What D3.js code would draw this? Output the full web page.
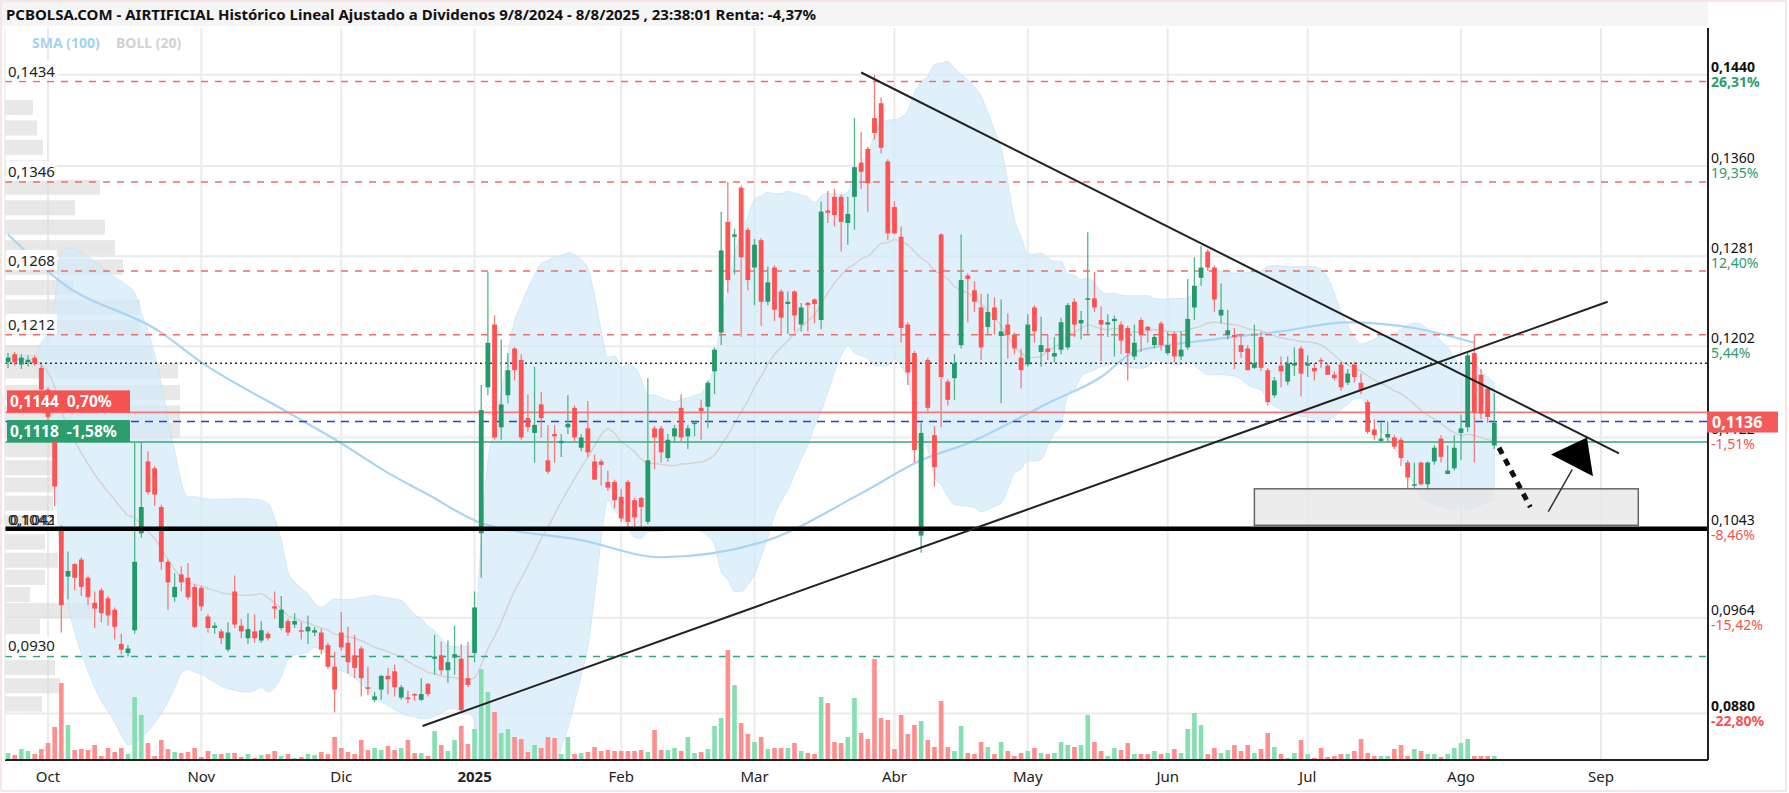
<!DOCTYPE html>
<html><head><meta charset="utf-8">
<script src="https://cdn.jsdelivr.net/npm/d3@7"></script>
<style>body{margin:0;background:#fff}svg{display:block;font-family:"Noto Sans",sans-serif}</style>
</head><body>
<script>
// ---------- DATA ----------
const startDate = "2024-09-23", endDate = "2025-08-08", axisEndDate = "2025-09-05";
const holidays = ["2024-12-25","2024-12-26","2025-01-01","2025-04-18","2025-04-21","2025-05-01"];
const opens = [.1188,.1195,.1186,.1188,.1192,.1183,.1164,.1118,.1042,.1000,.1011,.1015,.0999,.0977,.0988,.0981,.0971,.0941,.0933,.0953,
.1038,.1101,.1095,.1061,.1013,.0982,.1002,.0999,.0991,.0990,.0965,.0955,.0952,.0936,.0987,.0957,.0946,.0952,.0944,.0950,
.0974,.0955,.0961,.0958,.0953,.0952,.0951,.0951,.0940,.0921,.0951,.0942,.0931,.0937,.0903,.0892,.0901,.0913,.0917,.0894,
.0894,.0897,.0892,.0906,.0928,.0931,.0918,.0929,.0928,.0911,.0933,.1038,.1166,.1221,.1131,.1159,.1200,.1190,.1139,.1126,
.1151,.1102,.1125,.1117,.1131,.1148,.1113,.1130,.1101,.1101,.1083,.1083,.1070,.1083,.1067,.1069,.1048,.1130,.1130,.1104,
.1123,.1148,.1123,.1134,.1148,.1149,.1180,.1214,.1311,.1298,.1341,.1304,.1271,.1295,.1241,.1271,.1250,.1239,.1250,.1221,
.1240,.1243,.1225,.1321,.1333,.1333,.1310,.1333,.1363,.1375,.1402,.1415,.1364,.1324,.1298,.1221,.1196,.1036,.1190,.1124,
.1300,.1171,.1174,.1203,.1264,.1251,.1236,.1219,.1236,.1211,.1221,.1212,.1192,.1186,.1236,.1197,.1200,.1193,.1199,.1201,
.1241,.1222,.1243,.1244,.1225,.1221,.1224,.1221,.1218,.1193,.1225,.1219,.1203,.1222,.1196,.1213,.1193,.1201,.1236,.1262,
.1285,.1271,.1229,.1212,.1212,.1203,.1200,.1183,.1210,.1181,.1159,.1185,.1171,.1185,.1200,.1185,.1183,.1190,.1185,.1177,
.1186,.1170,.1186,.1170,.1153,.1129,.1119,.1122,.1122,.1120,.1100,.1080,.1100,.1081,.1101,.1121,.1090,.1095,.1126,.1131,
.1196,.1177,.1165,.1115];
const highs = [.1196,.1197,.1195,.1194,.1194,.1186,.1166,.1125,.1045,.1022,.1012,.1017,.1001,.0987,.0990,.0983,.0973,.0950,.0940,.1118,
.1118,.1110,.1097,.1063,.1015,.1003,.1009,.1012,.0993,.0992,.0967,.0960,.0954,.0960,.1001,.0963,.0968,.0967,.0961,.0952,
.0987,.0983,.0963,.0968,.0960,.0966,.0956,.0954,.0942,.0934,.0969,.0956,.0949,.0939,.0921,.0899,.0914,.0920,.0923,.0905,
.0900,.0898,.0911,.0907,.0949,.0943,.0944,.0957,.0941,.0943,.0987,.1168,.1267,.1229,.1208,.1196,.1201,.1195,.1160,.1184,
.1162,.1133,.1133,.1125,.1159,.1150,.1125,.1154,.1107,.1103,.1093,.1085,.1077,.1085,.1069,.1070,.1174,.1132,.1132,.1125,
.1133,.1160,.1133,.1136,.1155,.1172,.1201,.1320,.1346,.1305,.1343,.1306,.1296,.1297,.1272,.1273,.1252,.1250,.1251,.1240,
.1241,.1244,.1329,.1338,.1340,.1335,.1333,.1402,.1390,.1377,.1440,.1420,.1366,.1329,.1307,.1223,.1198,.1135,.1192,.1132,
.1301,.1173,.1195,.1300,.1266,.1259,.1248,.1248,.1245,.1243,.1231,.1214,.1200,.1230,.1238,.1228,.1212,.1210,.1227,.1240,
.1244,.1233,.1302,.1267,.1237,.1230,.1229,.1224,.1220,.1221,.1227,.1220,.1212,.1224,.1215,.1215,.1215,.1261,.1280,.1290,
.1287,.1273,.1257,.1234,.1218,.1213,.1203,.1221,.1215,.1183,.1175,.1193,.1193,.1201,.1202,.1194,.1187,.1192,.1187,.1180,
.1187,.1182,.1188,.1178,.1155,.1138,.1135,.1136,.1124,.1122,.1102,.1100,.1101,.1101,.1115,.1124,.1115,.1124,.1142,.1196,
.1212,.1182,.1167,.1161];
const lows = [.1183,.1185,.1182,.1184,.1185,.1160,.1135,.1062,.0951,.0980,.0988,.0983,.0975,.0955,.0960,.0957,.0945,.0932,.0930,.0950,
.1034,.1072,.1062,.1006,.0971,.0978,.0987,.0980,.0955,.0970,.0951,.0950,.0941,.0934,.0955,.0946,.0941,.0942,.0942,.0944,
.0963,.0953,.0948,.0955,.0945,.0941,.0948,.0932,.0919,.0881,.0935,.0915,.0911,.0895,.0896,.0890,.0892,.0897,.0895,.0892,
.0889,.0891,.0891,.0895,.0914,.0914,.0907,.0914,.0882,.0903,.0925,.0999,.1159,.1120,.1120,.1152,.1172,.1120,.1127,.1100,
.1122,.1090,.1100,.1105,.1125,.1118,.1110,.1105,.1085,.1080,.1075,.1060,.1048,.1042,.1040,.1044,.1046,.1094,.1100,.1101,
.1118,.1118,.1112,.1123,.1120,.1130,.1160,.1203,.1249,.1265,.1210,.1251,.1238,.1220,.1238,.1224,.1213,.1213,.1215,.1215,
.1215,.1222,.1217,.1310,.1307,.1285,.1291,.1304,.1340,.1320,.1383,.1371,.1295,.1300,.1205,.1168,.1100,.1021,.1145,.1079,
.1131,.1150,.1155,.1200,.1223,.1232,.1190,.1212,.1212,.1152,.1191,.1195,.1165,.1184,.1205,.1184,.1190,.1188,.1195,.1199,
.1210,.1208,.1213,.1232,.1189,.1210,.1193,.1195,.1172,.1190,.1197,.1205,.1200,.1198,.1194,.1188,.1190,.1199,.1225,.1255,
.1268,.1232,.1222,.1208,.1182,.1192,.1181,.1182,.1180,.1150,.1157,.1166,.1168,.1176,.1158,.1175,.1172,.1183,.1177,.1172,
.1163,.1168,.1170,.1160,.1125,.1120,.1118,.1118,.1112,.1097,.1077,.1078,.1080,.1075,.1098,.1100,.1090,.1093,.1102,.1127,
.1100,.1138,.1135,.1112];
const closes = [.1192,.1188,.1192,.1190,.1187,.1164,.1140,.1079,.0975,.1005,.0999,.0991,.0982,.0972,.0968,.0966,.0956,.0936,.0937,.1013,
.1061,.1074,.1072,.1013,.0995,.0991,.0995,.0982,.0956,.0974,.0955,.0957,.0946,.0951,.0958,.0952,.0954,.0946,.0953,.0946,
.0972,.0971,.0951,.0961,.0952,.0956,.0953,.0936,.0921,.0901,.0938,.0925,.0920,.0911,.0902,.0895,.0913,.0910,.0903,.0903,
.0893,.0896,.0897,.0897,.0930,.0918,.0925,.0932,.0883,.0905,.0973,.1146,.1205,.1122,.1151,.1181,.1181,.1122,.1131,.1133,
.1139,.1092,.1123,.1119,.1134,.1122,.1122,.1109,.1085,.1098,.1078,.1067,.1051,.1048,.1052,.1061,.1102,.1122,.1109,.1120,
.1130,.1122,.1130,.1135,.1145,.1170,.1199,.1286,.1260,.1300,.1280,.1260,.1291,.1241,.1258,.1234,.1227,.1241,.1229,.1236,
.1238,.1239,.1320,.1319,.1317,.1311,.1318,.1359,.1355,.1345,.1389,.1376,.1301,.1301,.1218,.1179,.1111,.1126,.1148,.1096,
.1175,.1155,.1187,.1260,.1261,.1241,.1201,.1232,.1225,.1215,.1212,.1200,.1181,.1221,.1215,.1203,.1197,.1196,.1223,.1238,
.1221,.1225,.1244,.1236,.1221,.1223,.1226,.1207,.1196,.1205,.1212,.1216,.1210,.1203,.1203,.1193,.1199,.1226,.1255,.1271,
.1271,.1243,.1234,.1216,.1210,.1197,.1181,.1187,.1183,.1153,.1172,.1180,.1187,.1187,.1178,.1187,.1180,.1189,.1177,.1174,
.1166,.1178,.1175,.1164,.1127,.1124,.1121,.1125,.1114,.1104,.1087,.1081,.1081,.1100,.1113,.1105,.1093,.1113,.1130,.1194,
.1144,.1143,.1140,.1135];
const volumes = [6,4,10,8,5,10,16,32,76,34,9,10,9,14,3,11,7,11,5,62,44,16,3,19,10,7,6,7,11,2,8,5,5,6,6,2,5,1,4,5,
8,3,5,1,2,5,4,7,5,22,11,7,5,19,9,11,9,13,9,11,19,6,6,3,28,14,8,19,33,15,30,90,67,47,26,30,22,20,7,14,
11,22,21,5,22,5,6,7,12,8,9,8,8,8,8,9,7,29,9,9,11,8,22,6,7,10,33,41,109,74,36,25,17,22,10,11,11,11,16,8,
6,5,62,56,17,16,22,61,26,20,100,41,39,10,44,25,34,38,19,12,58,12,8,33,6,5,17,12,5,17,8,3,6,8,11,6,5,6,
17,14,12,14,44,17,8,3,11,9,16,5,5,5,8,5,6,10,6,30,46,34,5,11,6,9,14,8,14,6,10,26,12,5,1,6,19,5,1,11,
2,3,5,5,8,20,6,3,3,3,10,14,3,10,8,5,5,2,5,11,16,20,3,3,3,3];
// SMA(100) at sample candles
const smaIdx = [0,8,23,29,42,50,57,63,71,86,98,113,128,137,144,156,164,169,181,191,201,211,220];
const smaVal = [.1300,.1258,.1214,.1188,.1144,.1117,.1091,.1072,.1047,.1032,.1017,.1030,.1073,.1102,.1117,.1152,.1175,.1197,.1208,.1215,.1223,.1218,.1205];
// left volume profile: bin top price, width
const profTop = [.1418,.1400,.1383,.1365,.1348,.1330,.1313,.1295,.1278,.1260,.1243,.1225,.1203,.1187,.1168,.1150,.1135,.1118,.1102,.1087,.1071,.1054,.1037,.1021,.1006,.0991,.0977,.0963,.0945,.0927,.0911,.0895];
const profW = [28,32,38,45,95,70,100,110,118,68,135,135,147,173,175,175,175,48,48,48,48,40,40,53,40,25,88,35,40,50,55,37];
const monthNames = ["Oct","Nov","Dic","2025","Feb","Mar","Abr","May","Jun","Jul","Ago","Sep"];
const yTicks = [.1440,.1360,.1281,.1202,.1122,.1043,.0964,.0880];
const yTickLabels = ["0,1440","0,1360","0,1281","0,1202","0,1122","0,1043","0,0964","0,0880"];
const yTickPct = ["26,31%","19,35%","12,40%","5,44%","-1,51%","-8,46%","-15,42%","-22,80%"];
const redLevels = [.1434,.1346,.1268,.1212];
const redLevelLabels = ["0,1434","0,1346","0,1268","0,1212"];
const supportLevel = .1042, greenLevel = .0930, dottedLevel = .1187;
const lastRed = .1144, lastBlue = .1136, lastGreen = .1118;
// annotations in (candle index, price)
const downTrend = [[128,.1442],[241.7,.1108]];
const upTrend = [[62.2,.0869],[240,.1241]];
const zone = [[187,.1077],[244.6,.1045]];
const dotArrow = [[223.7,.1113],[228.4,.1061]];
const thinArrow = [[231.1,.1057],[234.7,.1094]];
const arrowHead = [[231.5,.1107],[236.9,.1122],[237.8,.1088]];

// ---------- SETUP ----------
const W=1789,H=793, L=5, R=1708, T=28, B=760;
function ymd(d){return d.toISOString().slice(0,10);}
const dates=[], allDates=[];
for(let d=new Date(startDate+"T00:00:00Z"); ymd(d)<=axisEndDate; d.setUTCDate(d.getUTCDate()+1)){
  const wd=d.getUTCDay(); if(wd===0||wd===6) continue;
  const s=ymd(d); if(holidays.includes(s)) continue;
  allDates.push(s); if(s<=endDate) dates.push(s);
}
const x=d3.scaleLinear().domain([6,218]).range([48,1461]);
const y=d3.scaleLinear().domain([0.0841,0.1481]).range([758,28]);
const vy=d3.scaleLinear().domain([0,110]).range([759,649]);
const fmt=v=>v.toFixed(4).replace(".",",");

const svg=d3.select("body").append("svg").attr("width",W).attr("height",H);
svg.append("rect").attr("x",1).attr("y",1).attr("width",W-4).attr("height",H-3).attr("fill","#fff").attr("stroke","#f2cccc");
svg.append("rect").attr("x",2).attr("y",2).attr("width",R-2).attr("height",T-4).attr("fill","#f5f5f5");
svg.append("defs").append("clipPath").attr("id","clip").append("rect").attr("x",L).attr("y",T).attr("width",R-L).attr("height",B-T);
const g=svg.append("g").attr("clip-path","url(#clip)");

const monthIdx=[];
allDates.forEach((s,i)=>{ if(i>0 && s.slice(5,7)!==allDates[i-1].slice(5,7)) monthIdx.push(i); });
g.selectAll(".vg").data(monthIdx).join("line").attr("x1",d=>x(d)).attr("x2",d=>x(d)).attr("y1",T).attr("y2",B).attr("stroke","#ebebeb").attr("stroke-width",2);
g.selectAll(".hg").data(yTicks).join("line").attr("x1",L).attr("x2",R).attr("y1",d=>y(d)).attr("y2",d=>y(d)).attr("stroke","#ebebeb").attr("stroke-width",2);

g.selectAll(".prof").data(profTop).join("rect").attr("x",L).attr("y",d=>y(d)).attr("width",(d,i)=>profW[i]).attr("height",d=>y(d-0.0015)-y(d)-2).attr("fill","#d9d9d9").attr("opacity",0.6);

const boll=closes.map((c,i)=>{const w=closes.slice(Math.max(0,i-19),i+1);const m=d3.mean(w);const sd=Math.sqrt(d3.mean(w,v=>(v-m)*(v-m)));return {i,m,u:m+2*sd,l:m-2*sd};});
g.append("path").datum(boll).attr("d",d3.area().x(d=>x(d.i)).y0(d=>y(d.l)).y1(d=>y(d.u)).curve(d3.curveMonotoneX)).attr("fill","#d6ebfa").attr("opacity",0.75).attr("stroke","#c4e1f7").attr("stroke-width",1);
g.append("path").datum(boll).attr("d",d3.line().x(d=>x(d.i)).y(d=>y(d.m)).curve(d3.curveMonotoneX)).attr("fill","none").attr("stroke","#d5d2cf").attr("stroke-width",1.5);
g.append("path").datum(smaIdx.map((d,i)=>[d,smaVal[i]])).attr("d",d3.line().x(d=>x(d[0])).y(d=>y(d[1])).curve(d3.curveMonotoneX)).attr("fill","none").attr("stroke","#a9d5f5").attr("stroke-width",2.2);

g.selectAll(".rl").data(redLevels).join("line").attr("x1",L).attr("x2",R).attr("y1",d=>y(d)).attr("y2",d=>y(d)).attr("stroke","#f26b6b").attr("stroke-width",1.5).attr("stroke-dasharray","7,7");
g.append("line").attr("x1",L).attr("x2",R).attr("y1",y(greenLevel)).attr("y2",y(greenLevel)).attr("stroke","#2fa879").attr("stroke-width",1.5).attr("stroke-dasharray","7,7");
g.append("line").attr("x1",L).attr("x2",R).attr("y1",y(dottedLevel)).attr("y2",y(dottedLevel)).attr("stroke","#333").attr("stroke-width",1.5).attr("stroke-dasharray","2,3");
g.append("line").attr("x1",L).attr("x2",R).attr("y1",y(lastRed)).attr("y2",y(lastRed)).attr("stroke","#f47a7a").attr("stroke-width",1.6);
g.append("line").attr("x1",L).attr("x2",R).attr("y1",y(lastBlue)).attr("y2",y(lastBlue)).attr("stroke","#1f3fe0").attr("stroke-width",1.6).attr("stroke-dasharray","8,6");
g.append("line").attr("x1",L).attr("x2",R).attr("y1",y(lastGreen)).attr("y2",y(lastGreen)).attr("stroke","#3aa878").attr("stroke-width",1.6);

g.selectAll(".vol").data(volumes).join("rect").attr("x",(d,i)=>x(i)-2.3).attr("y",d=>vy(d)).attr("width",4.6).attr("height",d=>759-vy(d))
 .attr("fill",(d,i)=>closes[i]>=opens[i]?"#86dfb0":"#ff8f8f");

const up=i=>closes[i]>=opens[i];
g.selectAll(".wick").data(closes).join("line").attr("x1",(d,i)=>x(i)).attr("x2",(d,i)=>x(i)).attr("y1",(d,i)=>y(highs[i])).attr("y2",(d,i)=>y(lows[i]))
 .attr("stroke",(d,i)=>up(i)?"#52b48a":"#f77a7a").attr("stroke-width",1.3);
g.selectAll(".body").data(closes).join("rect").attr("x",(d,i)=>x(i)-2.4).attr("width",4.8)
 .attr("y",(d,i)=>y(Math.max(opens[i],closes[i]))).attr("height",(d,i)=>Math.max(1.5,Math.abs(y(opens[i])-y(closes[i]))))
 .attr("fill",(d,i)=>up(i)?"#239a69":"#ff5252");

g.append("line").attr("x1",L).attr("x2",R).attr("y1",y(supportLevel)).attr("y2",y(supportLevel)).attr("stroke","#000").attr("stroke-width",4.5);
const P=p=>[x(p[0]),y(p[1])];
[downTrend,upTrend].forEach(t=>g.append("line").attr("x1",P(t[0])[0]).attr("y1",P(t[0])[1]).attr("x2",P(t[1])[0]).attr("y2",P(t[1])[1]).attr("stroke","#222").attr("stroke-width",2));
g.append("rect").attr("x",x(zone[0][0])).attr("y",y(zone[0][1])).attr("width",x(zone[1][0])-x(zone[0][0])).attr("height",y(zone[1][1])-y(zone[0][1]))
 .attr("fill","#e6e6e6").attr("fill-opacity",0.75).attr("stroke","#666").attr("stroke-width",1.5);
g.append("line").attr("x1",P(dotArrow[0])[0]).attr("y1",P(dotArrow[0])[1]).attr("x2",P(dotArrow[1])[0]).attr("y2",P(dotArrow[1])[1]).attr("stroke","#111").attr("stroke-width",5).attr("stroke-dasharray","7,6");
g.append("line").attr("x1",P(thinArrow[0])[0]).attr("y1",P(thinArrow[0])[1]).attr("x2",P(thinArrow[1])[0]).attr("y2",P(thinArrow[1])[1]).attr("stroke","#333").attr("stroke-width",1.5);
g.append("polygon").attr("points",arrowHead.map(p=>P(p).join(",")).join(" ")).attr("fill","#000");

svg.append("line").attr("x1",R).attr("x2",R).attr("y1",T).attr("y2",B).attr("stroke","#222").attr("stroke-width",2);
svg.append("line").attr("x1",L).attr("x2",R).attr("y1",B).attr("y2",B).attr("stroke","#222").attr("stroke-width",2);
svg.append("line").attr("x1",L).attr("x2",L).attr("y1",T).attr("y2",B).attr("stroke","#e5e5e5");

svg.selectAll(".xl").data(monthIdx).join("text").attr("x",d=>x(d)).attr("y",782).attr("text-anchor","middle").attr("font-size",15)
 .attr("font-weight",(d,i)=>monthNames[i]==="2025"?"bold":"normal").attr("fill","#222").text((d,i)=>monthNames[i]);

yTicks.forEach((v,i)=>{
  const b=(i===0||i===yTicks.length-1);
  svg.append("text").attr("x",1711).attr("y",y(v)-3).attr("font-size",14).attr("font-weight",b?"bold":"normal").attr("fill","#111").text(yTickLabels[i]);
  svg.append("text").attr("x",1711).attr("y",y(v)+12).attr("font-size",14).attr("font-weight",b?"bold":"normal").attr("fill",v>=0.114?"#2a9d6e":"#f25454").text(yTickPct[i]);
});
svg.append("rect").attr("x",1707).attr("y",y(lastBlue)-10).attr("width",71).attr("height",21).attr("fill","#f55a5a");
svg.append("text").attr("x",1712).attr("y",y(lastBlue)+6).attr("font-size",16).attr("font-weight","bold").attr("fill","#fff").text(fmt(lastBlue));

function leftLabel(v,t,col){
  const tx=svg.append("text").attr("x",8).attr("y",y(v)-5).attr("font-size",15).attr("fill",col).text(t);
  const bb=tx.node().getBBox();
  svg.insert("rect","text:last-child").attr("x",bb.x-2).attr("y",bb.y).attr("width",bb.width+4).attr("height",bb.height).attr("fill","#fff").attr("opacity",0.9);
  tx.raise();
}
redLevels.forEach((v,i)=>leftLabel(v,redLevelLabels[i],"#222"));
leftLabel(greenLevel,"0,0930","#222");
svg.append("text").attr("x",8).attr("y",y(supportLevel)-4).attr("font-size",15).attr("fill","#222").text("0,1042");
svg.append("text").attr("x",10).attr("y",y(supportLevel)-4).attr("font-size",15).attr("fill","#222").text("0,1041");
[[lastRed,"0,1144  0,70%","#f55252"],[lastGreen,"0,1118  -1,58%","#2b9d6e"]].forEach(([v,t,c])=>{
  svg.append("rect").attr("x",7).attr("y",y(v)-22).attr("width",123).attr("height",22).attr("fill",c);
  svg.append("text").attr("x",10).attr("y",y(v)-5).attr("font-size",15.5).attr("font-weight","bold").attr("fill","#fff").attr("xml:space","preserve").text(t);
});

svg.append("text").attr("x",6).attr("y",20).attr("font-size",15).attr("font-weight","bold").attr("fill","#111")
 .text("PCBOLSA.COM - AIRTIFICIAL Histórico Lineal Ajustado a Dividenos 9/8/2024 - 8/8/2025 , 23:38:01 Renta: -4,37%");
svg.append("text").attr("x",32).attr("y",48).attr("font-size",14).attr("font-weight","bold").attr("fill","#a3d2f5").text("SMA (100)");
svg.append("text").attr("x",116).attr("y",48).attr("font-size",14).attr("font-weight","bold").attr("fill","#d2d2d2").text("BOLL (20)");
</script>
</body></html>
